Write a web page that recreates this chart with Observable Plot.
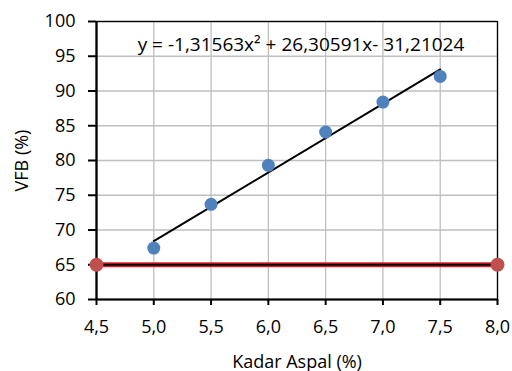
<!DOCTYPE html>
<html><head><meta charset="utf-8">
<script src="https://cdn.jsdelivr.net/npm/d3@7"></script>
<script src="https://cdn.jsdelivr.net/npm/@observablehq/plot@0.6"></script>
<style>body{margin:0;background:#fff;} #c{width:512px;height:371px;}</style>
</head><body><div id="c"></div>
<script>
const kadarAspal = [5.0, 5.5, 6.0, 6.5, 7.0, 7.5];
const vfb = [67.4, 73.7, 79.3, 84.1, 88.4, 92.1];
const trendX = [5.0, 7.5];
const trendY = [68.4, 93.1];
const limitX = [4.5, 8.0];
const limitY = [65, 65];
const xTicks = [4.5, 5.0, 5.5, 6.0, 6.5, 7.0, 7.5, 8.0];
const yTicks = [60, 65, 70, 75, 80, 85, 90, 95, 100];
const equation = "y = -1,31563x² + 26,30591x- 31,21024";
const xLabel = "Kadar Aspal (%)";
const yLabel = "VFB (%)";

const pts = kadarAspal.map((x, i) => ({x, y: vfb[i]}));
const trend = trendX.map((x, i) => ({x, y: trendY[i]}));
const limit = limitX.map((x, i) => ({x, y: limitY[i]}));
const fmt = d => d3.format(".1f")(d).replace(".", ",");
const font = "'Open Sans', sans-serif";
const fs = 18;

const chart = Plot.plot({
  width: 512, height: 371,
  marginLeft: 96, marginRight: 15, marginTop: 21, marginBottom: 72,
  style: {fontFamily: font, fontSize: fs + "px", color: "#000", background: "#fff"},
  x: {domain: [4.5, 8.0]},
  y: {domain: [60, 100]},
  marks: [
    Plot.gridX(xTicks, {stroke: "#bfbfbf", strokeOpacity: 1, strokeWidth: 1.3}),
    Plot.gridY(yTicks, {stroke: "#bfbfbf", strokeOpacity: 1, strokeWidth: 1.3}),
    Plot.frame({stroke: "#000", strokeWidth: 1.3}),
    Plot.axisX({ticks: xTicks, tickFormat: fmt, tickSize: 6, tickPadding: 15, stroke: "#000", strokeWidth: 2, strokeOpacity: 1, fontSize: fs, label: xLabel, labelAnchor: "center", labelArrow: "none", labelOffset: 68}),
    Plot.axisY({ticks: yTicks, tickSize: 8, tickPadding: 13, stroke: "#000", strokeWidth: 2, strokeOpacity: 1, fontSize: fs, label: yLabel, labelAnchor: "center", labelArrow: "none", labelOffset: 81}),
    Plot.ruleX([4.5], {stroke: "#000", strokeWidth: 2.2}),
    Plot.ruleY([60], {stroke: "#000", strokeWidth: 2.2}),
    Plot.line(limit, {x: "x", y: "y", stroke: "#e0202a", strokeWidth: 5}),
    Plot.line(limit, {x: "x", y: "y", stroke: "#000", strokeWidth: 2}),
    Plot.dot(limit, {x: "x", y: "y", r: 7, fill: "#c0504d"}),
    Plot.line(trend, {x: "x", y: "y", stroke: "#000", strokeWidth: 2}),
    Plot.dot(pts, {x: "x", y: "y", r: 6.5, fill: "#4f81bd"}),
    Plot.text([equation], {frameAnchor: "top", dx: 4, dy: 23, lineAnchor: "middle", fontSize: 19, fill: "#000"})
  ]
});
document.getElementById("c").appendChild(chart);
</script></body></html>
